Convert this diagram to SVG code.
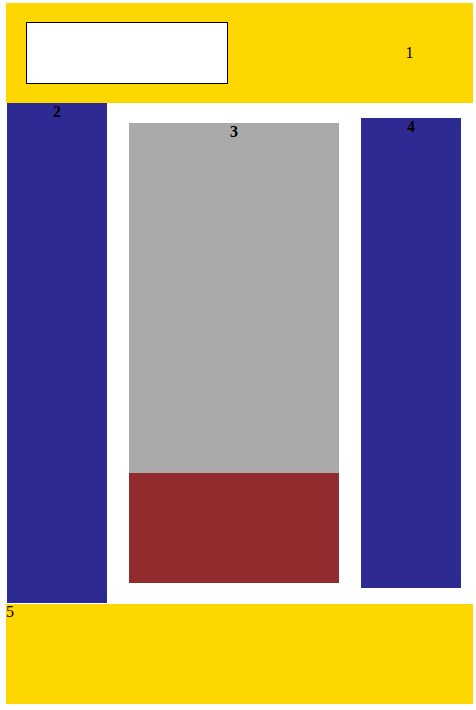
<svg xmlns="http://www.w3.org/2000/svg" width="476" height="710" viewBox="0 0 476 710">
<style>
.y{fill:#FFD700}
.b{fill:#2E2A93}
.t{font-family:"Liberation Serif",serif;font-size:16px;fill:#000}
.bold{font-weight:bold}
</style>
<rect width="476" height="710" fill="#fff"/>
<g id="node1">
<rect class="y" x="6" y="3" width="467" height="100"/>
<rect x="26.5" y="22.5" width="201" height="61" fill="#fff" stroke="#000" stroke-width="1"/>
<text class="t" x="409.5" y="58" text-anchor="middle">1</text>
</g>
<g id="node2">
<rect class="b" x="7" y="103" width="100" height="500"/>
<text class="t bold" x="57" y="117" text-anchor="middle">2</text>
</g>
<g id="node3">
<rect x="129" y="123" width="210" height="350" fill="#AAAAAA"/>
<rect x="129" y="473" width="210" height="110" fill="#922B2D"/>
<text class="t bold" x="234" y="137" text-anchor="middle">3</text>
</g>
<g id="node4">
<rect class="b" x="361" y="118" width="100" height="470"/>
<text class="t bold" x="411" y="132" text-anchor="middle">4</text>
</g>
<g id="node5">
<rect class="y" x="6" y="604" width="467" height="100"/>
<text class="t" x="6" y="617">5</text>
</g>
<g id="connectors"/>
</svg>
